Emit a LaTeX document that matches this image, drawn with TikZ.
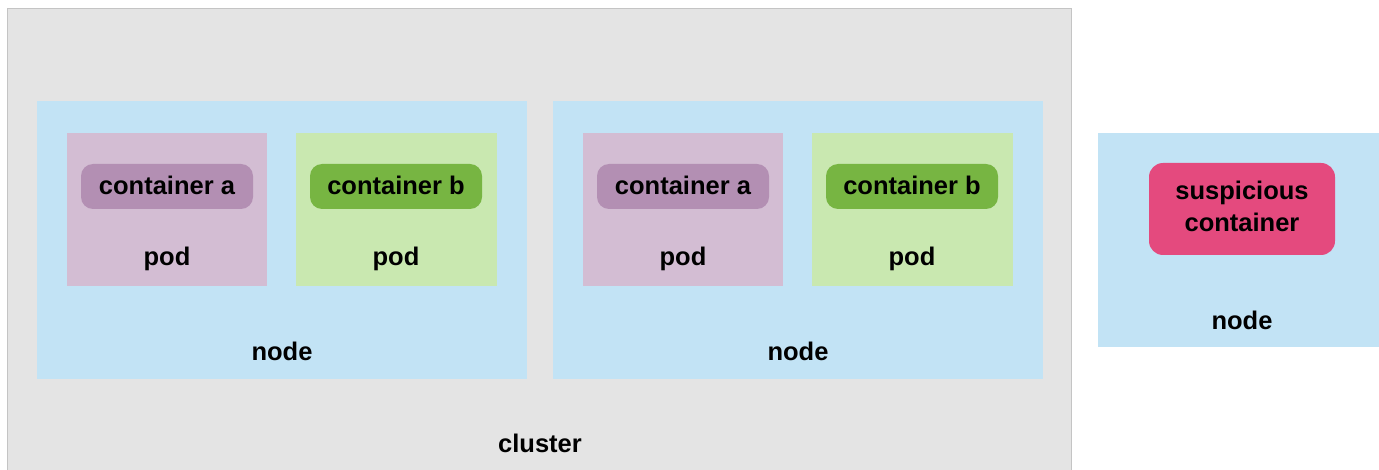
\documentclass[tikz,border=0pt]{standalone}
\usepackage{fontspec}
\setmainfont{Liberation Sans}
\begin{document}
\begin{tikzpicture}[x=1pt,y=-1pt,
  lbl/.style={font=\bfseries\fontsize{25.5}{32}\selectfont, text=black, inner sep=0pt},
  clusterbox/.style={fill=clusterfill, draw=clusterline, line width=1pt},
  nodebox/.style={fill=nodefill},
  podA/.style={fill=podAfill},
  podB/.style={fill=podBfill},
  chipA/.style={fill=chipAfill, rounded corners=12pt},
  chipB/.style={fill=chipBfill, rounded corners=12pt},
  chipS/.style={fill=chipSfill, rounded corners=14pt}]
\definecolor{clusterfill}{HTML}{E4E4E4}
\definecolor{clusterline}{HTML}{C4C4C4}
\definecolor{nodefill}{HTML}{C2E3F5}
\definecolor{podAfill}{HTML}{D3BDD3}
\definecolor{chipAfill}{HTML}{B38FB3}
\definecolor{podBfill}{HTML}{C9E8B0}
\definecolor{chipBfill}{HTML}{77B542}
\definecolor{chipSfill}{HTML}{E44A7E}
\useasboundingbox (0,0) rectangle (1379,470);
\fill[white] (0,0) rectangle (1379,470);

% cluster
\draw[clusterbox] (7.5,8.5) rectangle (1071.5,475);
\node[lbl] (cluster) at (540,443) {cluster};

% first node
\fill[nodebox] (37,101) rectangle (527,379);
\node[lbl] (n1) at (282,351) {node};
\fill[podA] (67,133) rectangle (267,286);
\fill[chipA] (81,164) rectangle (253,209);
\node[lbl] (ca1) at (167,185) {container a};
\node[lbl] (pa1) at (167,259) {pod};
\fill[podB] (296,133) rectangle (497,286);
\fill[chipB] (310,164) rectangle (482,209);
\node[lbl] (cb1) at (396,185) {container b};
\node[lbl] (pb1) at (396,259) {pod};

% second node
\fill[nodebox] (553,101) rectangle (1043,379);
\node[lbl] (n2) at (798,351) {node};
\fill[podA] (583,133) rectangle (783,286);
\fill[chipA] (597,164) rectangle (769,209);
\node[lbl] (ca2) at (683,185) {container a};
\node[lbl] (pa2) at (683,259) {pod};
\fill[podB] (812,133) rectangle (1013,286);
\fill[chipB] (826,164) rectangle (998,209);
\node[lbl] (cb2) at (912,185) {container b};
\node[lbl] (pb2) at (912,259) {pod};

% node outside the cluster
\fill[nodebox] (1098,133) rectangle (1380,347);
\fill[chipS] (1149,163) rectangle (1335,255);
\node[lbl, align=center] (sus) at (1242,206) {suspicious\\container};
\node[lbl] (n3) at (1242,320) {node};
\end{tikzpicture}
\end{document}
